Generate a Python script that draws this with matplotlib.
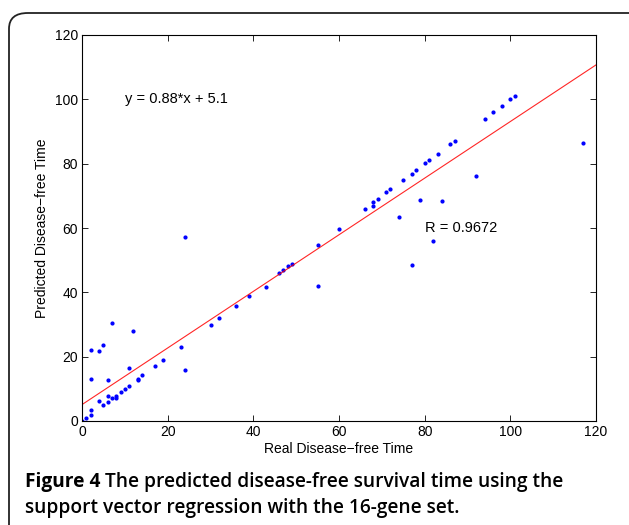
import numpy as np
import matplotlib
matplotlib.use('Agg')
import matplotlib.pyplot as plt
from matplotlib.patches import FancyBboxPatch

# real vs predicted disease-free time
real_time = [0, 1, 2, 2, 2, 2, 4, 4, 5, 5, 6, 6, 6, 7, 7, 8, 8, 9, 10, 11,
             11, 12, 13, 13, 14, 17, 19, 23, 24, 24, 30, 32, 36, 39, 43, 46,
             47, 48, 49, 55, 55, 60, 66, 68, 68, 69, 71, 72, 74, 75, 77, 77,
             78, 79, 80, 81, 82, 83, 84, 86, 87, 92, 94, 96, 98, 100, 101, 117]
pred_time = [0, 1.0, 1.9, 3.5, 13.1, 22.1, 6.2, 21.9, 4.9, 23.5, 6.0, 7.7,
             12.7, 7.1, 30.4, 7.3, 7.9, 9.0, 10.0, 11.0, 16.4, 28.0, 12.9,
             13.1, 14.2, 17.1, 19.0, 22.9, 16.0, 57.1, 29.8, 32.1, 35.8, 38.9,
             41.6, 46.0, 46.8, 48.1, 48.9, 54.8, 41.9, 59.8, 66.0, 66.7, 68.1,
             69.1, 71.2, 72.2, 63.4, 75.0, 76.9, 48.5, 78.0, 68.7, 80.1, 81.0,
             55.9, 83.0, 68.5, 86.0, 86.9, 76.2, 94.0, 96.0, 97.9, 100.0,
             101.0, 86.4]

slope = 0.88
intercept = 5.1
r_value = 0.9672

xticks = [0, 20, 40, 60, 80, 100, 120]
yticks = [0, 20, 40, 60, 80, 100, 120]

plt.rcParams['font.family'] = ['Liberation Sans', 'DejaVu Sans']

fig = plt.figure(figsize=(6.29, 5.25), dpi=100)

# rounded frame around the figure + caption
frame = FancyBboxPatch((9 / 629, -0.2), 1.2, 1.2 - 13 / 525,
                       boxstyle='round,pad=0,rounding_size=0.03',
                       transform=fig.transFigure, fill=False,
                       edgecolor='#222222', linewidth=1.3, clip_on=False)
fig.patches.append(frame)

ax = fig.add_axes([82 / 629, 1 - 421 / 525, 514 / 629, 386 / 525])

ax.plot(real_time, pred_time, '.', color='blue', markersize=4)
xl = np.array([0, 120])
ax.plot(xl, slope * xl + intercept, color='red', linewidth=0.8, alpha=0.85)

ax.set_xlim(0, 120)
ax.set_ylim(0, 120)
ax.set_xticks(xticks)
ax.set_yticks(yticks)
ax.tick_params(direction='in', top=True, right=True, length=4, width=0.6,
               labelsize=10, pad=3)
for s in ax.spines.values():
    s.set_linewidth(0.8)

ax.set_xlabel('Real Disease\u2212free Time', fontsize=10, labelpad=2)
ax.set_ylabel('Predicted Disease\u2212free Time', fontsize=10, labelpad=4)

ax.text(10, 100, 'y = %.2f*x + %.1f' % (slope, intercept), fontsize=10.5,
        va='center', ha='left')
ax.text(80, 60, 'R = %.4f' % r_value, fontsize=10.5, va='center', ha='left')

# caption: bold "Figure 4" followed by semibold text
cap_font = ['Open Sans', 'DejaVu Sans']
cap_size = 13.8
x0 = 25 / 629
head = fig.text(x0, 1 - 482 / 525, 'Figure 4', fontsize=cap_size,
                fontweight='bold', family=cap_font, va='center', ha='left')
fig.canvas.draw()
bb = head.get_window_extent(renderer=fig.canvas.get_renderer())
x1 = (bb.x1 + 5) / fig.bbox.width
fig.text(x1, 1 - 482 / 525,
         'The predicted disease-free survival time using the',
         fontsize=cap_size, fontweight='semibold', family=cap_font,
         va='center', ha='left')
fig.text(x0, 1 - 508 / 525,
         'support vector regression with the 16-gene set.',
         fontsize=cap_size, fontweight='semibold', family=cap_font,
         va='center', ha='left')

fig.savefig('out.png', dpi=100)
